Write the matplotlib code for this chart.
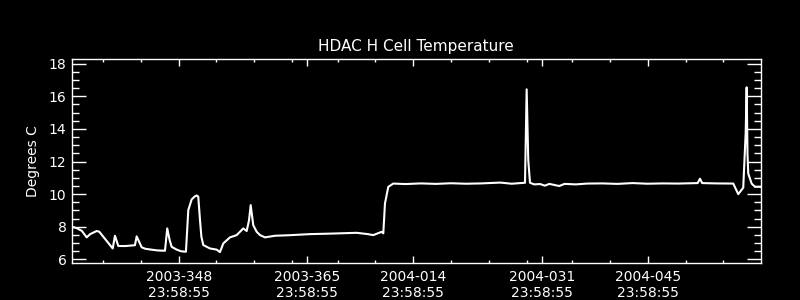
import matplotlib
matplotlib.use('Agg')
import matplotlib.pyplot as plt
import numpy as np

# day numbers counted from 2003-000 (2004-001 -> 366)
days = [333.9, 334.5, 335.2, 335.84, 336.3, 337.16, 337.5, 339.28, 339.58, 340.02,
        341.0, 342.22, 342.45, 343.11, 343.6, 344.21, 345.2, 346.19, 346.49, 346.8,
        347.07, 347.74, 348.3, 348.96, 349.1, 349.27, 349.72, 350.1, 350.38, 350.59,
        350.82, 351.0, 351.25, 352.14, 353.02, 353.46, 353.9, 354.78, 355.67, 356.54,
        356.99, 357.3, 357.52, 357.86, 358.3, 358.75, 359.41, 360.73, 362.5, 365.36,
        368.0, 371.53, 373.0, 373.72, 374.83, 375.05, 375.27, 375.71, 376.37, 378.0,
        380.0, 382.0, 384.0, 386.0, 388.0, 390.5, 391.2, 392.0, 393.78, 394.0,
        394.21, 394.44, 395.0, 395.8, 396.4, 397.0, 398.31, 399.0, 400.5, 402.0,
        404.0, 406.0, 408.0, 410.0, 412.0, 414.0, 416.6, 416.91, 417.2, 419.0,
        421.31, 421.97, 422.63, 422.95, 423.08, 423.19, 423.29, 423.74, 424.18, 424.84]
temps = [8.00, 7.92, 7.75, 7.35, 7.55, 7.74, 7.70, 6.67, 7.45, 6.82,
         6.82, 6.87, 7.41, 6.74, 6.65, 6.61, 6.55, 6.53, 7.90, 7.20,
         6.77, 6.60, 6.50, 6.47, 7.60, 9.02, 9.68, 9.85, 9.92, 9.85,
         8.41, 7.40, 6.88, 6.67, 6.60, 6.45, 6.98, 7.35, 7.49, 7.90,
         7.74, 8.40, 9.33, 8.10, 7.70, 7.49, 7.35, 7.45, 7.48, 7.55,
         7.58, 7.63, 7.55, 7.49, 7.69, 7.60, 9.43, 10.45, 10.65, 10.62,
         10.66, 10.63, 10.67, 10.64, 10.66, 10.71, 10.68, 10.64, 10.70, 16.43,
         12.10, 10.70, 10.60, 10.62, 10.52, 10.63, 10.50, 10.63, 10.60, 10.65,
         10.66, 10.63, 10.68, 10.64, 10.66, 10.65, 10.68, 10.95, 10.68, 10.66,
         10.65, 10.00, 10.40, 13.73, 16.55, 12.50, 11.27, 10.65, 10.45, 10.45]

major_days = [348, 365, 379, 396, 410]
major_labels = ['2003-348\n23:58:55', '2003-365\n23:58:55', '2004-014\n23:58:55',
                '2004-031\n23:58:55', '2004-045\n23:58:55']
minor_days = [338, 343, 353, 358, 363, 369, 374, 384, 389, 394, 400, 405, 415, 420]

fig = plt.figure(figsize=(8, 3), dpi=100, facecolor='black')
ax = fig.add_axes([0.09, 0.1223, 0.8609, 0.68], facecolor='black')

ax.plot(days, temps, color='white', lw=1.5)

ax.set_xlim(333.9, 424.94)
ax.set_ylim(5.76, 18.27)

ax.set_xticks(major_days)
ax.set_xticklabels(major_labels)
ax.set_xticks(minor_days, minor=True)
ax.set_yticks(np.arange(6, 19, 2))
ax.set_yticks(np.arange(6, 18.5, 0.5), minor=True)

for s in ax.spines.values():
    s.set_color('white')
    s.set_linewidth(1)

ax.tick_params(which='both', direction='in', colors='white', top=True, right=True,
               labelsize=10, width=1)
ax.tick_params(axis='y', which='major', length=10, pad=4)
ax.tick_params(axis='y', which='minor', length=5.3)
ax.tick_params(axis='x', which='major', length=5, pad=5)
ax.tick_params(axis='x', which='minor', length=2.5)
for t in ax.get_xticklabels():
    t.set_linespacing(1.15)

ax.set_ylabel('Degrees C', color='white', fontsize=10, labelpad=6)
ax.set_title('HDAC H Cell Temperature', color='white', fontsize=11, pad=6)

fig.savefig('out.png', dpi=100, facecolor='black')
